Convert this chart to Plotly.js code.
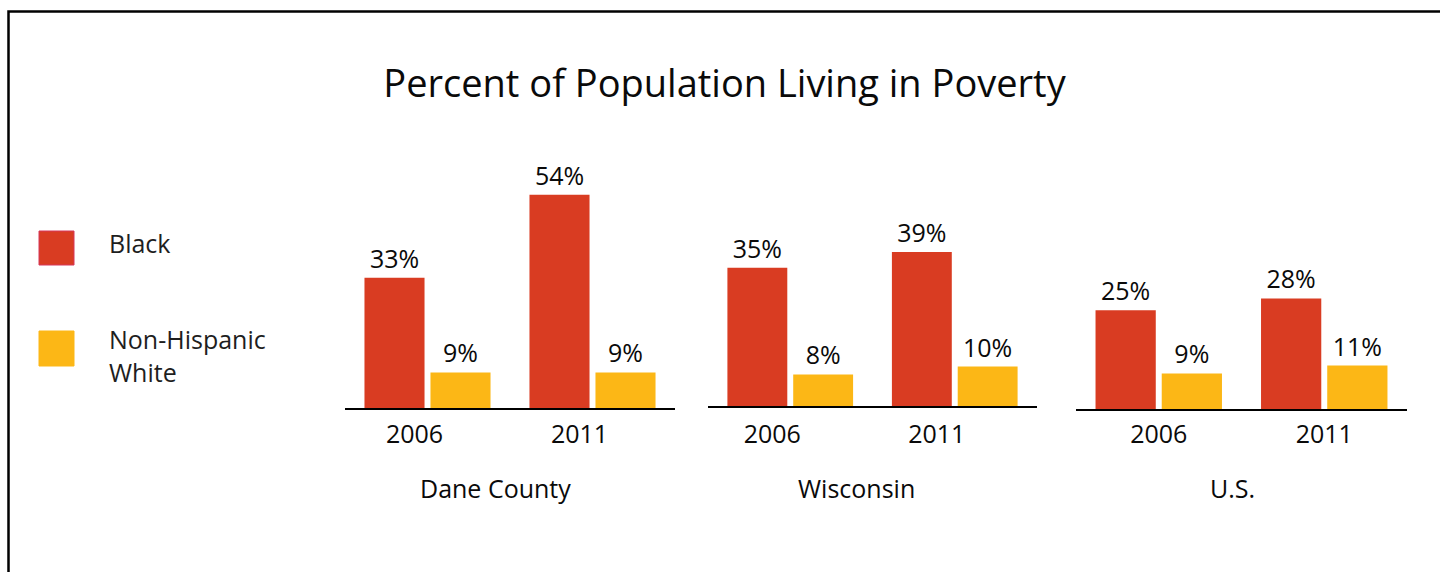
<!DOCTYPE html>
<html>
<head>
<meta charset="utf-8">
<script src="https://cdn.plot.ly/plotly-3.0.1.min.js"></script>
<style>html,body{margin:0;padding:0;background:#fff;}#chart{width:1440px;height:572px;}</style>
</head>
<body>
<div id="chart"></div>
<script>
// ---- data ----
const chartTitle = 'Percent of Population Living in Poverty';
const regions = ['Dane County', 'Wisconsin', 'U.S.'];
const years = ['2006', '2011'];
const seriesNames = ['Black', 'Non-Hispanic<br>White'];
const daneBlack = [33, 54];
const daneWhite = [9, 9];
const wisconsinBlack = [35, 39];
const wisconsinWhite = [8, 10];
const usBlack = [25, 28];
const usWhite = [9, 11];

// ---- style ----
const RED = '#D93C22';
const YELLOW = '#FCB716';
const W = 1440, H = 572;
const FONT = 'Open Sans, sans-serif';
const TXT = '#0a0a0a';
const px = x => x / W;
const py = y => 1 - y / H;

const blackSeries = [daneBlack, wisconsinBlack, usBlack];
const whiteSeries = [daneWhite, wisconsinWhite, usWhite];
// pixel geometry of the three panels: [left, right, baseline]
const panels = [[345, 675, 408], [708, 1037, 406], [1076, 1407, 409]];
const labelShift = [-13, -18, 0];
const labelStandoff = [3, 5, 2];
const regionLabelX = [495, 856, 1232];
const PX_PER_PCT = 3.95, YMAX = 60;

const traces = [];
const layout = {
  width: W, height: H,
  margin: {l: 0, r: 0, t: 0, b: 0},
  paper_bgcolor: '#ffffff', plot_bgcolor: 'rgba(0,0,0,0)',
  showlegend: false,
  barmode: 'group', bargap: 0.2, bargroupgap: 0.09,
  font: {family: FONT, color: TXT, size: 25},
  title: {
    text: chartTitle, font: {family: FONT, size: 38, color: TXT},
    x: px(724.5), xanchor: 'center', xref: 'paper',
    y: py(84), yanchor: 'middle', yref: 'paper'
  },
  shapes: [], annotations: []
};

panels.forEach((p, i) => {
  const n = i === 0 ? '' : String(i + 1);
  const xa = 'x' + n, ya = 'y' + n;
  [blackSeries[i], whiteSeries[i]].forEach((vals, s) => {
    traces.push({
      type: 'bar', x: years, y: vals, xaxis: xa, yaxis: ya,
      name: seriesNames[s], offsetgroup: String(s),
      marker: {color: s === 0 ? RED : YELLOW, line: {width: 0}},
      texttemplate: '%{y}%', textposition: 'outside', constraintext: 'none',
      textfont: {family: FONT, size: 25, color: TXT},
      cliponaxis: false, hoverinfo: 'skip'
    });
  });
  const top = p[2] - PX_PER_PCT * YMAX;
  layout['xaxis' + n] = {
    domain: [px(p[0]), px(p[1])], anchor: ya, type: 'category',
    range: [-0.5, 1.5], showline: true, linecolor: '#000000', linewidth: 2,
    ticks: '', showgrid: false, zeroline: false, fixedrange: true,
    tickfont: {family: FONT, size: 25, color: TXT},
    ticklabelshift: labelShift[i], ticklabelstandoff: labelStandoff[i]
  };
  layout['yaxis' + n] = {
    domain: [py(p[2]), py(top)], anchor: xa, range: [0, YMAX],
    visible: false, fixedrange: true
  };
  layout.annotations.push({
    text: regions[i], xref: 'paper', yref: 'paper',
    x: px(regionLabelX[i]), y: py(488), xanchor: 'center', yanchor: 'middle',
    showarrow: false, font: {family: FONT, size: 25, color: TXT}
  });
});

// legend
const legendRows = [[231, 265, RED, '#D6365A', 243], [331, 366, YELLOW, YELLOW, 355]];
legendRows.forEach((r, s) => {
  layout.shapes.push({
    type: 'rect', xref: 'paper', yref: 'paper',
    x0: px(39), x1: px(74), y0: py(r[1]), y1: py(r[0]),
    fillcolor: r[2], line: {color: r[3], width: 1}
  });
  layout.annotations.push({
    text: seriesNames[s], xref: 'paper', yref: 'paper',
    x: px(107), y: py(r[4]), xanchor: 'left', yanchor: 'middle', align: 'left',
    showarrow: false, font: {family: FONT, size: 25, color: '#1e1e1e'}
  });
});

// frame
layout.shapes.push({
  type: 'rect', xref: 'paper', yref: 'paper',
  x0: px(8.5), x1: px(1460), y0: py(600), y1: py(11.5),
  line: {color: '#000000', width: 2.5}, fillcolor: 'rgba(0,0,0,0)'
});

Plotly.newPlot('chart', traces, layout, {displayModeBar: false, staticPlot: true});
</script>
</body>
</html>
